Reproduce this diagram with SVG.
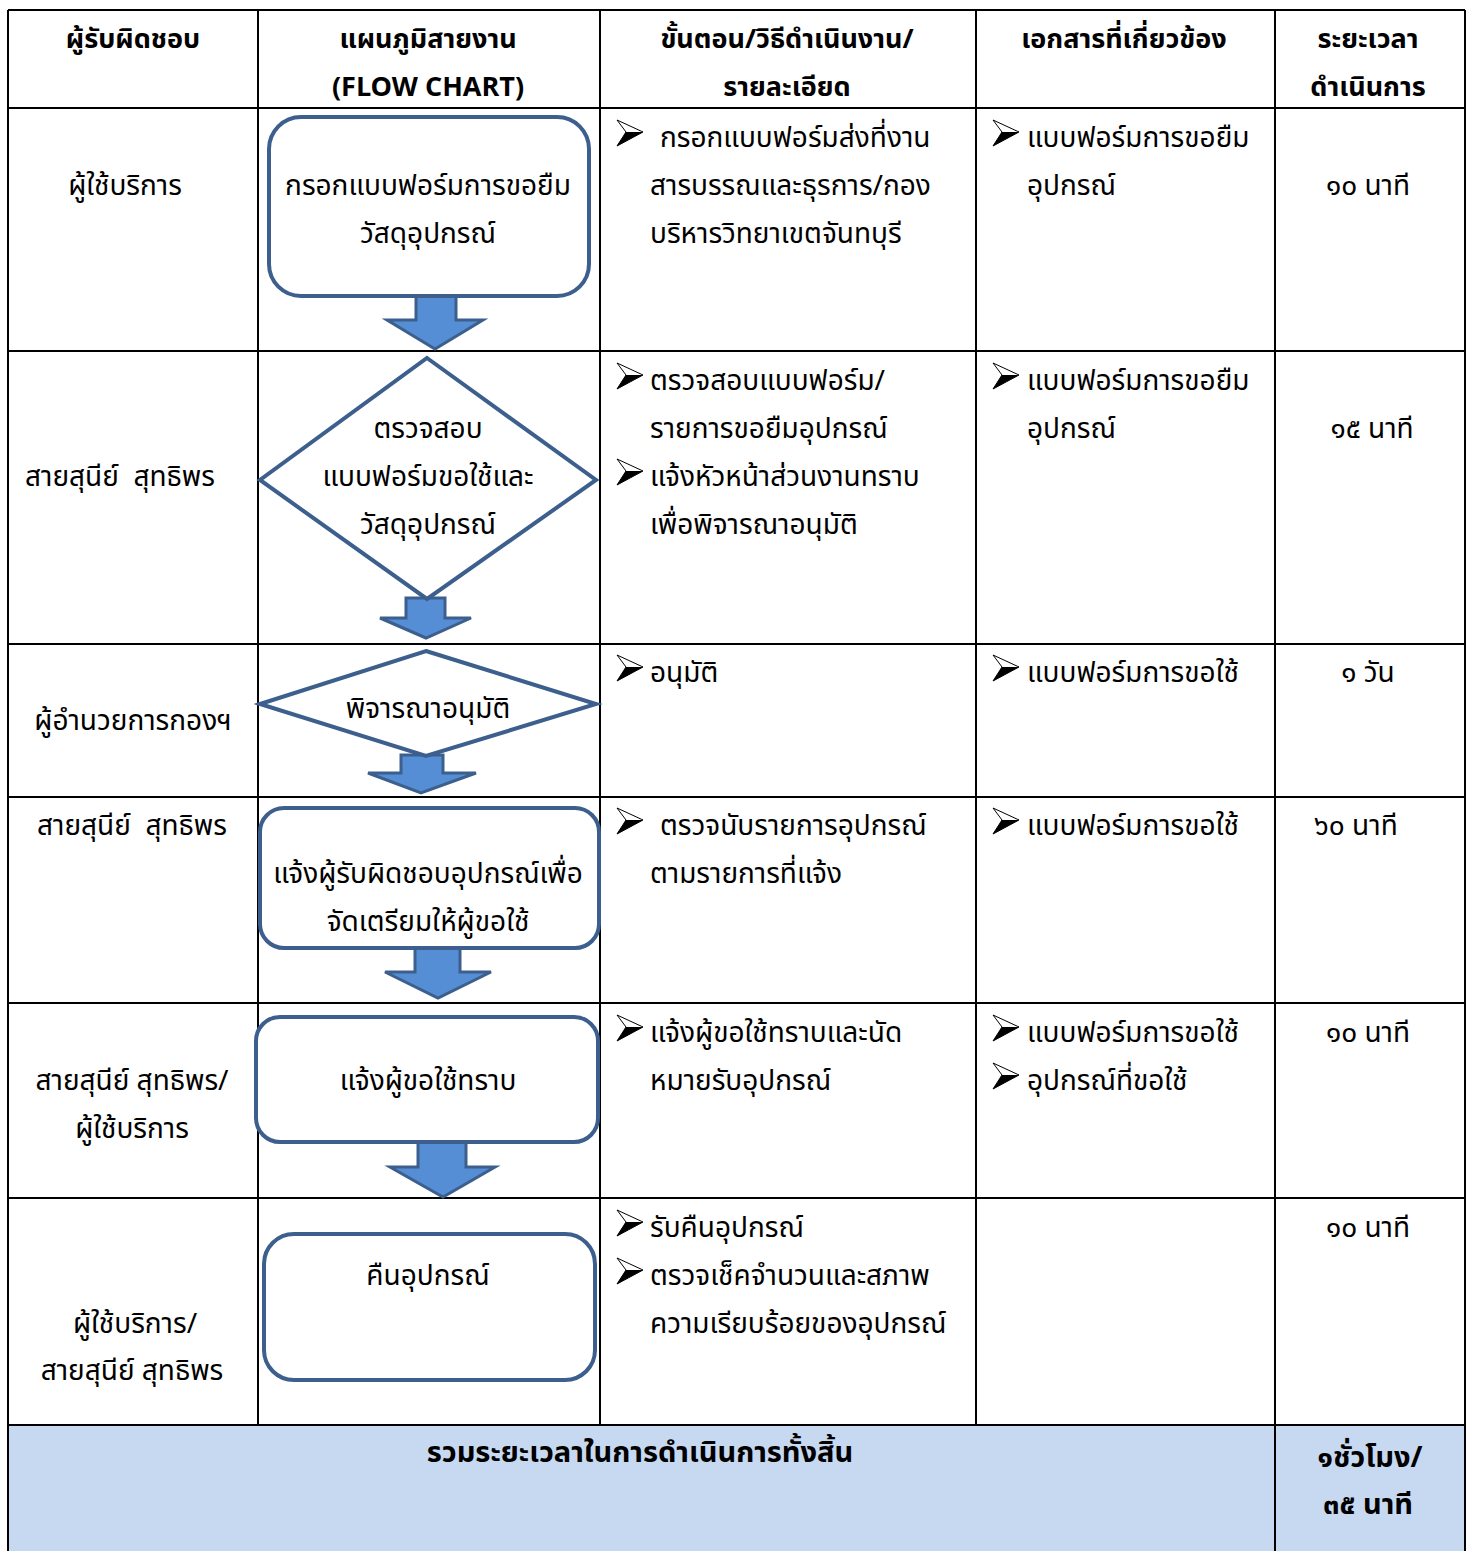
<svg xmlns="http://www.w3.org/2000/svg" width="1472" height="1551" viewBox="0 0 1472 1551">
<defs>
<style>
text{font-family:"Noto Sans Thai","Noto Sans Thai UI","Tahoma","Noto Sans","DejaVu Sans",sans-serif;font-size:28px;fill:#000;white-space:pre}
.b{font-weight:bold;font-size:27px}
.s{font-size:29px}
.c{text-anchor:middle}
.grid{stroke:#000;stroke-width:2;fill:none}
.node{fill:#fff;stroke:#3C5F8D;stroke-width:4}
.barrow{fill:#558ED5;stroke:#3C5F8D;stroke-width:3;stroke-linejoin:miter}
</style>
<symbol id="bul" viewBox="0 0 26 26" overflow="visible">
<path d="M0,0 L26,12 L0,26 L9,12 Z" fill="#fff" stroke="#000" stroke-width="1"/>
<path d="M9,12 L26,12 L0,26 Z" fill="#000"/>
</symbol>
</defs>
<rect x="0" y="0" width="1472" height="1551" fill="#fff"/>
<rect x="8" y="1425" width="1457" height="126" fill="#C6D9F1"/>
<g id="grid" class="grid">
<path d="M8,10 H1465 M8,108 H1465 M8,351 H1465 M8,644 H1465 M8,797 H1465 M8,1003 H1465 M8,1198 H1465 M8,1425 H1465"/>
<path d="M8,10 V1551 M1465,10 V1551 M1275,10 V1551 M258,10 V1425 M600,10 V1425 M976,10 V1425"/>
</g>
<g id="header">
<text class="b c" x="133" y="48">ผู้รับผิดชอบ</text>
<text class="b c" x="428" y="48">แผนภูมิสายงาน</text>
<text class="b c" x="428" y="96">(FLOW CHART)</text>
<text class="b c" x="787" y="48">ขั้นตอน/วิธีดำเนินงาน/</text>
<text class="b c" x="787" y="96">รายละเอียด</text>
<text class="b c" x="1124" y="48">เอกสารที่เกี่ยวข้อง</text>
<text class="b c" x="1368" y="48">ระยะเวลา</text>
<text class="b c" x="1368" y="96">ดำเนินการ</text>
</g>
<g id="responsible">
<text class="c" x="125" y="195">ผู้ใช้บริการ</text>
<text class="c" x="120" y="486" xml:space="preserve">สายสุนีย์  สุทธิพร</text>
<text class="c" x="133" y="730">ผู้อำนวยการกองฯ</text>
<text class="c" x="132" y="835" xml:space="preserve">สายสุนีย์  สุทธิพร</text>
<text class="c" x="132" y="1090">สายสุนีย์ สุทธิพร/</text>
<text class="c" x="132" y="1138">ผู้ใช้บริการ</text>
<text class="c" x="135" y="1333">ผู้ใช้บริการ/</text>
<text class="c" x="132" y="1380">สายสุนีย์ สุทธิพร</text>
</g>
<g id="connectors">
<polygon class="barrow" points="416,296 456,296 456,320 483,320 435,349 387,320 416,320"/>
<polygon class="barrow" points="406,598 445,598 445,618 471,618 426,638 380,618 406,618"/>
<polygon class="barrow" points="401,755 443,755 443,773 476,773 421,793 368,773 401,773"/>
<polygon class="barrow" points="415,948 460,948 460,972 491,972 438,998 385,972 415,972"/>
<polygon class="barrow" points="418,1142 466,1142 466,1167 495,1167 443,1197 390,1167 418,1167"/>
</g>
<g id="n1">
<rect class="node" x="269" y="117" width="320" height="179" rx="32"/>
<text class="c" x="428" y="195">กรอกแบบฟอร์มการขอยืม</text>
<text class="c" x="428" y="243">วัสดุอุปกรณ์</text>
</g>
<g id="n2">
<polygon class="node" points="427,358 596,480 427,599 260,480"/>
<text class="c" x="428" y="438">ตรวจสอบ</text>
<text class="c" x="428" y="486">แบบฟอร์มขอใช้และ</text>
<text class="c" x="428" y="534">วัสดุอุปกรณ์</text>
</g>
<g id="n3">
<polygon class="node" points="426,651 596,704 426,756 260,704"/>
<text class="c" x="428" y="718">พิจารณาอนุมัติ</text>
</g>
<g id="n4">
<rect class="node" x="260" y="808" width="339" height="140" rx="24"/>
<text class="c" x="428" y="883">แจ้งผู้รับผิดชอบอุปกรณ์เพื่อ</text>
<text class="c" x="428" y="931">จัดเตรียมให้ผู้ขอใช้</text>
</g>
<g id="n5">
<rect class="node" x="256" y="1017" width="342" height="125" rx="24"/>
<text class="c" x="428" y="1090">แจ้งผู้ขอใช้ทราบ</text>
</g>
<g id="n6">
<rect class="node" x="264" y="1234" width="331" height="146" rx="30"/>
<text class="c" x="428" y="1285">คืนอุปกรณ์</text>
</g>
<g id="steps">
<use href="#bul" x="617" y="120" width="26" height="26"/>
<text x="660" y="147">กรอกแบบฟอร์มส่งที่งาน</text>
<text x="650" y="195">สารบรรณและธุรการ/กอง</text>
<text x="650" y="243">บริหารวิทยาเขตจันทบุรี</text>
<use href="#bul" x="617" y="363" width="26" height="26"/>
<text x="650" y="390">ตรวจสอบแบบฟอร์ม/</text>
<text x="650" y="438">รายการขอยืมอุปกรณ์</text>
<use href="#bul" x="617" y="459" width="26" height="26"/>
<text x="650" y="486">แจ้งหัวหน้าส่วนงานทราบ</text>
<text x="650" y="534">เพื่อพิจารณาอนุมัติ</text>
<use href="#bul" x="617" y="655" width="26" height="26"/>
<text x="650" y="682">อนุมัติ</text>
<use href="#bul" x="617" y="808" width="26" height="26"/>
<text x="660" y="835">ตรวจนับรายการอุปกรณ์</text>
<text x="650" y="883">ตามรายการที่แจ้ง</text>
<use href="#bul" x="617" y="1015" width="26" height="26"/>
<text x="650" y="1042">แจ้งผู้ขอใช้ทราบและนัด</text>
<text x="650" y="1090">หมายรับอุปกรณ์</text>
<use href="#bul" x="617" y="1210" width="26" height="26"/>
<text x="650" y="1237">รับคืนอุปกรณ์</text>
<use href="#bul" x="617" y="1258" width="26" height="26"/>
<text x="650" y="1285">ตรวจเช็คจำนวนและสภาพ</text>
<text x="650" y="1333">ความเรียบร้อยของอุปกรณ์</text>
</g>
<g id="docs">
<use href="#bul" x="993" y="120" width="26" height="26"/>
<text x="1027" y="147">แบบฟอร์มการขอยืม</text>
<text x="1027" y="195">อุปกรณ์</text>
<use href="#bul" x="993" y="363" width="26" height="26"/>
<text x="1027" y="390">แบบฟอร์มการขอยืม</text>
<text x="1027" y="438">อุปกรณ์</text>
<use href="#bul" x="993" y="655" width="26" height="26"/>
<text x="1027" y="682">แบบฟอร์มการขอใช้</text>
<use href="#bul" x="993" y="808" width="26" height="26"/>
<text x="1027" y="835">แบบฟอร์มการขอใช้</text>
<use href="#bul" x="993" y="1015" width="26" height="26"/>
<text x="1027" y="1042">แบบฟอร์มการขอใช้</text>
<use href="#bul" x="993" y="1063" width="26" height="26"/>
<text x="1027" y="1090">อุปกรณ์ที่ขอใช้</text>
</g>
<g id="times">
<text class="c" x="1368" y="195">๑๐ นาที</text>
<text class="c" x="1372" y="438">๑๕ นาที</text>
<text class="c" x="1368" y="682">๑ วัน</text>
<text class="c" x="1356" y="835">๖๐ นาที</text>
<text class="c" x="1368" y="1042">๑๐ นาที</text>
<text class="c" x="1368" y="1237">๑๐ นาที</text>
</g>
<g id="summary">
<text class="b s c" x="640" y="1462">รวมระยะเวลาในการดำเนินการทั้งสิ้น</text>
<text class="b s c" x="1370" y="1467">๑ชั่วโมง/</text>
<text class="b s c" x="1368" y="1514">๓๕ นาที</text>
</g>
</svg>
